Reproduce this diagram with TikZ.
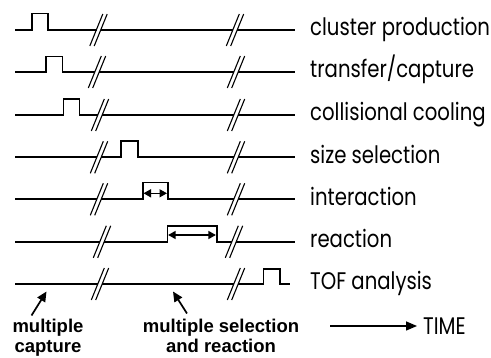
\documentclass[tikz,border=0pt]{standalone}
\usepackage{fontspec}
\setmainfont{Poppins}[FakeStretch=0.82]
\newfontfamily\boldlbl{Liberation Sans}
\usetikzlibrary{arrows.meta}

% broken time axis: two parallel slashes centred on the axis
\tikzset{
  sig/.style={line width=1.6pt, line join=miter},
  slash/.style={line width=1.1pt},
  lbl/.style={anchor=base west, inner sep=0pt, font=\fontsize{24}{24}\selectfont},
  note/.style={align=center, inner sep=0pt, font=\boldlbl\bfseries\fontsize{18.5}{19.5}\selectfont},
  ptr/.style={line width=1.7pt, -{Triangle[length=10pt,width=9pt]}},
  span/.style={line width=1.5pt, {Triangle[length=7.5pt,width=8pt]}-{Triangle[length=7.5pt,width=8pt]}},
  pics/axbreak/.style={code={
    \draw[slash] (-8.7,16) -- (4.3,-16);
    \draw[slash] (-4.3,16) -- (8.7,-16);
  }}
}

\begin{document}
\begin{tikzpicture}[x=1pt, y=-1pt]
\useasboundingbox (0,0) rectangle (491,358);

% row 1: cluster production
\draw[sig] (15,30) -- (32,30) -- (32,13.5) -- (48,13.5) -- (48,30) -- (96.5,30);
\draw[sig] (100.5,30) -- (233,30);
\draw[sig] (237,30) -- (295,30);
\pic at (98.5,30) {axbreak};
\pic at (235,30) {axbreak};
\node[lbl] (l1) at (310,36) {cluster production};

% row 2: transfer/capture
\draw[sig] (15,72) -- (46,72) -- (46,56.5) -- (62.5,56.5) -- (62.5,72) -- (95,72);
\draw[sig] (99,72) -- (234,72);
\draw[sig] (238,72) -- (295,72);
\pic at (97,72) {axbreak};
\pic at (236,72) {axbreak};
\node[lbl] (l2) at (310,78) {transfer/capture};

% row 3: collisional cooling
\draw[sig] (15,115) -- (63.5,115) -- (63.5,99) -- (79.5,99) -- (79.5,115) -- (98,115);
\draw[sig] (102,115) -- (234,115);
\draw[sig] (238,115) -- (295,115);
\pic at (100,115) {axbreak};
\pic at (236,115) {axbreak};
\node[lbl] (l3) at (310,121) {collisional cooling};

% row 4: size selection
\draw[sig] (15,157.3) -- (97,157.3);
\draw[sig] (101,157.3) -- (120.7,157.3) -- (120.7,141) -- (137.7,141) -- (137.7,157.3) -- (234,157.3);
\draw[sig] (238,157.3) -- (295,157.3);
\pic at (99,157.3) {axbreak};
\pic at (236,157.3) {axbreak};
\node[lbl] (l4) at (310,163.3) {size selection};

% row 5: interaction
\draw[sig] (15,199.3) -- (97,199.3);
\draw[sig] (101,199.3) -- (142.7,199.3) -- (142.7,182.5) -- (167.8,182.5) -- (167.8,199.3) -- (234,199.3);
\draw[sig] (238,199.3) -- (295,199.3);
\pic at (99,199.3) {axbreak};
\pic at (236,199.3) {axbreak};
\coordinate (i1) at (143.5,193.3);
\coordinate (i2) at (167,193.3);
\draw[span] (i1) -- (i2);
\node[lbl] (l5) at (310,205.3) {interaction};

% row 6: reaction
\draw[sig] (15,241.8) -- (100,241.8);
\draw[sig] (104,241.8) -- (167.3,241.8) -- (167.3,226) -- (216.7,226) -- (216.7,241.8) -- (232,241.8);
\draw[sig] (236,241.8) -- (295,241.8);
\pic at (102,241.8) {axbreak};
\pic at (234,241.8) {axbreak};
\coordinate (r1) at (168.1,235);
\coordinate (r2) at (215.9,235);
\draw[span] (r1) -- (r2);
\node[lbl] (l6) at (310,247.8) {reaction};

% row 7: TOF analysis
\draw[sig] (15,284) -- (98,284);
\draw[sig] (102,284) -- (234,284);
\draw[sig] (238,284) -- (263.3,284) -- (263.3,269.3) -- (280,269.3) -- (280,284) -- (290,284);
\pic at (100,284) {axbreak};
\pic at (236,284) {axbreak};
\node[lbl] (l7) at (310,290) {TOF analysis};

% annotations below the time axis
\node[note, anchor=north] (n1) at (48,319) {multiple\\capture};
\node[note, anchor=north] (n2) at (221,319) {multiple selection\\and reaction};
\coordinate (t1) at (46.5,291.5);
\coordinate (t2) at (173,291.5);
\draw[ptr] (31.5,315.5) -- (t1);
\draw[ptr] (187,313.5) -- (t2);

% time direction
\node[lbl, anchor=west] (tm) at (423,326.5) {TIME};
\coordinate (ta) at (330,326);
\coordinate (tb) at (417,326);
\draw[line width=1.5pt, -{Triangle[length=11pt,width=9pt]}] (ta) -- (tb);
\end{tikzpicture}
\end{document}
